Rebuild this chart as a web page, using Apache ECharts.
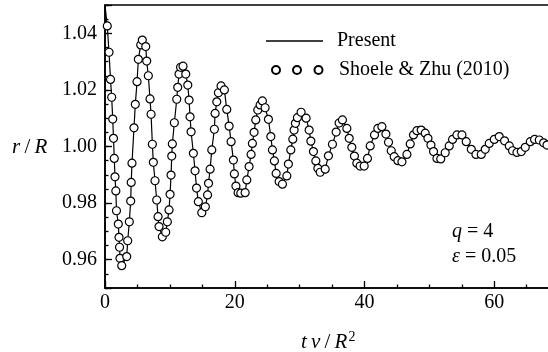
<!DOCTYPE html>
<html>
<head>
<meta charset="utf-8">
<script src="https://cdn.jsdelivr.net/npm/echarts@6/dist/echarts.min.js"></script>
<style>
  html, body { margin: 0; padding: 0; background: #fff; }
  #chart { width: 548px; height: 352px; }
</style>
</head>
<body>
<div id="chart"></div>
<script>
// Shoele & Zhu (2010) markers
const shoeleT = [
  0.35, 0.62, 0.85, 1.03, 1.19, 1.31, 1.43, 1.54, 1.67, 1.77, 2.05, 2.16, 2.24, 2.31, 2.58,
  3.35, 3.50, 3.75, 3.96, 4.04, 4.16, 4.47, 4.67, 4.94, 5.14, 5.51, 5.75,
  6.28, 6.43, 6.68, 6.94, 7.10, 7.30, 7.45, 7.71, 7.97, 8.18, 8.33, 8.84,
  9.36, 9.61, 9.87, 10.03, 10.18, 10.29, 10.38, 10.69, 11.06, 11.21, 11.41, 11.65, 12.03,
  12.45, 12.76, 12.96, 13.11, 13.27, 13.62, 13.88, 14.11, 14.39, 14.92,
  15.47, 15.81, 15.96, 16.20, 16.46, 16.86, 16.97, 17.23, 17.48, 17.89,
  18.40, 18.77, 19.13, 19.44, 19.79, 19.94, 20.18, 20.52, 20.93,
  21.60, 21.86, 22.21, 22.52, 22.72, 22.98, 23.24, 23.55, 23.91, 24.26,
  24.68, 25.19, 25.56, 25.81, 26.11, 26.38, 26.84, 27.35,
  28.03, 28.27, 28.64, 28.95, 29.15, 29.35, 29.66, 30.23,
  31.00, 31.47, 31.73, 32.13, 32.50, 32.81, 33.17,
  33.94, 34.44, 35.06, 35.63, 36.09, 36.60,
  37.28, 37.64, 38.05, 38.45, 38.82, 39.33, 39.95,
  40.46, 40.88, 41.54, 42.06, 42.68,
  43.30, 43.70, 44.12, 44.58, 45.15, 45.77,
  46.54, 47.05, 47.55, 48.08, 48.74,
  49.36, 49.78, 50.24, 50.64, 51.17, 51.75,
  52.44, 53.06, 53.57, 54.25, 55.02, 55.68, 56.46, 57.18, 58.00, 58.61,
  59.23, 60.00, 60.77, 61.59, 62.32, 62.82, 63.50, 64.17, 64.78, 65.56,
  66.22, 66.94, 67.61, 68.13
];
const shoeleR = [
  1.0426, 1.0333, 1.0237, 1.0174, 1.0097, 1.0029, 0.9958, 0.9893, 0.9843, 0.9773, 0.9726, 0.9679, 0.9644, 0.9605, 0.9579,
  0.9611, 0.9667, 0.9734, 0.9807, 0.9873, 0.9941, 1.0066, 1.0149, 1.0229, 1.0308, 1.0359, 1.0376,
  1.0353, 1.0302, 1.0250, 1.0168, 1.0114, 1.0008, 0.9944, 0.9879, 0.9811, 0.9752, 0.9717, 0.9681,
  0.9697, 0.9734, 0.9776, 0.9831, 0.9899, 0.9966, 1.0009, 1.0084, 1.0167, 1.0209, 1.0256, 1.0280, 1.0284,
  1.0256, 1.0217, 1.0164, 1.0105, 1.0052, 0.9976, 0.9914, 0.9853, 0.9805, 0.9766,
  0.9787, 0.9829, 0.9870, 0.9920, 0.9988, 1.0061, 1.0117, 1.0158, 1.0190, 1.0214,
  1.0200, 1.0131, 1.0072, 1.0017, 0.9952, 0.9903, 0.9860, 0.9837, 0.9835,
  0.9837, 0.9882, 0.9929, 0.9972, 1.0011, 1.0050, 1.0094, 1.0129, 1.0147, 1.0161,
  1.0137, 1.0096, 1.0035, 0.9988, 0.9949, 0.9905, 0.9876, 0.9867,
  0.9896, 0.9938, 0.9988, 1.0026, 1.0058, 1.0082, 1.0102, 1.0121,
  1.0100, 1.0058, 1.0019, 0.9982, 0.9949, 0.9923, 0.9909,
  0.9920, 0.9967, 1.0008, 1.0051, 1.0083, 1.0094,
  1.0064, 1.0029, 0.9997, 0.9966, 0.9941, 0.9931, 0.9931,
  0.9958, 1.0002, 1.0041, 1.0064, 1.0070,
  1.0044, 1.0015, 0.9985, 0.9964, 0.9950, 0.9946,
  0.9972, 1.0009, 1.0041, 1.0056, 1.0058,
  1.0047, 1.0029, 1.0005, 0.9982, 0.9958, 0.9956,
  0.9978, 1.0002, 1.0025, 1.0041, 1.0041, 1.0017, 0.9990, 0.9972, 0.9972, 0.9990,
  1.0011, 1.0025, 1.0035, 1.0020, 1.0002, 0.9985, 0.9979, 0.9982, 0.9997, 1.0017,
  1.0025, 1.0023, 1.0013, 1.0005
];
// the "Present" curve starts at the top-left corner, then follows the markers
const presentStartT = 0;
const presentStartR = 1.05;

const xTickLabels = ['0', '20', '40', '60'];
const yTickLabels = ['0.96', '0.98', '1.00', '1.02', '1.04'];

const serif = 'Liberation Serif';

const shoeleData = [];
for (let i = 0; i < Math.min(shoeleT.length, shoeleR.length); i++) {
  shoeleData.push([shoeleT[i], shoeleR[i]]);
}
const presentData = [[presentStartT, presentStartR]].concat(shoeleData);

// three open circles for the legend icon
const threeCircles = 'path://M0,4A4,4,0,1,1,8,4A4,4,0,1,1,0,4Z' +
  'M21,4A4,4,0,1,1,29,4A4,4,0,1,1,21,4Z' +
  'M42.5,4A4,4,0,1,1,50.5,4A4,4,0,1,1,42.5,4Z';

const chart = echarts.init(document.getElementById('chart'));

const option = {
  animation: false,
  backgroundColor: '#fff',
  grid: {
    left: 105,
    top: 5,
    width: 519,
    height: 283,
    outerBoundsMode: 'none',
    containLabel: false,
    show: true,
    borderColor: '#000',
    borderWidth: 1.6,
    backgroundColor: 'transparent'
  },
  legend: [
    {
      data: [{ name: 'Present', icon: 'rect' }],
      left: 266,
      top: 31,
      padding: 0,
      itemWidth: 57,
      itemHeight: 1.6,
      selectedMode: false,
      textStyle: { fontFamily: serif, fontSize: 20, color: '#000', padding: [0, 0, 0, 9] }
    },
    {
      data: [{ name: 'Shoele & Zhu (2010)', icon: threeCircles }],
      left: 271,
      top: 60,
      padding: 0,
      itemWidth: 50.5,
      itemHeight: 8,
      selectedMode: false,
      textStyle: { fontFamily: serif, fontSize: 20, color: '#000', padding: [0, 0, 0, 11.5] }
    }
  ],
  xAxis: {
    type: 'value',
    min: 0,
    max: 80,
    interval: 20,
    axisLine: { show: true, lineStyle: { color: '#000', width: 1.6 } },
    axisTick: { show: true, inside: true, length: 7, lineStyle: { color: '#000', width: 1.3 } },
    minorTick: { show: true, splitNumber: 4, length: 3.5, lineStyle: { color: '#000', width: 1.3 } },
    splitLine: { show: false },
    axisLabel: {
      fontFamily: serif,
      fontSize: 20,
      color: '#000',
      margin: 5,
      formatter: function (v) {
        const s = String(Math.round(v));
        return xTickLabels.indexOf(s) >= 0 ? s : '';
      }
    }
  },
  yAxis: [
    {
      // minor ticks every 0.005 plus the labels
      type: 'value',
      min: 0.95,
      max: 1.05,
      interval: 0.005,
      axisLine: { show: true, lineStyle: { color: '#000', width: 1.6 } },
      axisTick: { show: true, inside: true, length: 3.5, lineStyle: { color: '#000', width: 1.3 } },
      splitLine: { show: false },
      axisLabel: {
        fontFamily: serif,
        fontSize: 20,
        color: '#000',
        margin: 8,
        formatter: function (v) {
          const s = v.toFixed(2);
          return (Math.abs(v * 50 - Math.round(v * 50)) < 1e-6 && yTickLabels.indexOf(s) >= 0) ? s : '';
        }
      }
    },
    {
      // major ticks every 0.02
      type: 'value',
      position: 'left',
      min: 0.95,
      max: 1.05,
      splitNumber: 5,
      axisLine: { show: false },
      axisTick: { show: true, inside: true, length: 7, lineStyle: { color: '#000', width: 1.3 } },
      axisLabel: { show: false },
      splitLine: { show: false }
    }
  ],
  graphic: [
    {
      type: 'text',
      x: 12,
      y: 147,
      style: {
        text: '{i|r}\u2009/\u2009{i|R}',
        fill: '#000',
        verticalAlign: 'middle',
        font: '21px "Liberation Serif"',
        rich: { i: { fontFamily: serif, fontStyle: 'italic', fontSize: 21 } }
      }
    },
    {
      type: 'text',
      x: 301,
      y: 342,
      style: {
        text: '{i|t\u2009\u03bd}\u2009/\u2009{i|R}{sup|2}',
        fill: '#000',
        verticalAlign: 'middle',
        font: '21px "Liberation Serif"',
        rich: {
          i: { fontFamily: serif, fontStyle: 'italic', fontSize: 21 },
          sup: { fontFamily: serif, fontSize: 14, padding: [0, 0, 10, 1] }
        }
      }
    },
    {
      type: 'text',
      x: 452,
      y: 232,
      style: {
        text: '{i|q} = 4',
        fill: '#000',
        verticalAlign: 'middle',
        font: '20px "Liberation Serif"',
        rich: { i: { fontFamily: serif, fontStyle: 'italic', fontSize: 20 } }
      }
    },
    {
      type: 'text',
      x: 452,
      y: 257,
      style: {
        text: '{i|\u03b5} = 0.05',
        fill: '#000',
        verticalAlign: 'middle',
        font: '20px "Liberation Serif"',
        rich: { i: { fontFamily: serif, fontStyle: 'italic', fontSize: 20 } }
      }
    }
  ],
  series: [
    {
      name: 'Present',
      type: 'line',
      data: presentData,
      symbol: 'none',
      showSymbol: false,
      lineStyle: { color: '#000', width: 1.2 },
      itemStyle: { color: '#000' },
      z: 2
    },
    {
      name: 'Shoele & Zhu (2010)',
      type: 'scatter',
      data: shoeleData,
      symbol: 'circle',
      symbolSize: 8,
      itemStyle: { color: '#fff', borderColor: '#000', borderWidth: 1.2, opacity: 1 },
      z: 3
    }
  ]
};

chart.setOption(option);
</script>
</body>
</html>
